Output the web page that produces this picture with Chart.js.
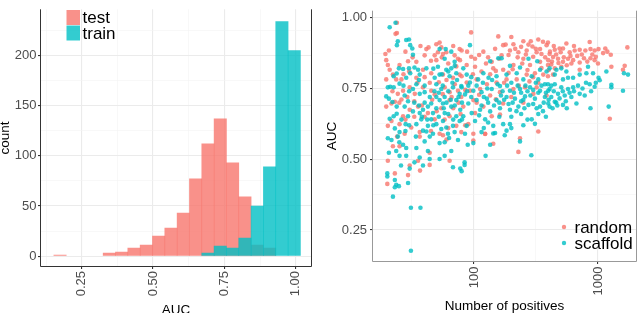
<!DOCTYPE html>
<html>
<head>
<meta charset="utf-8">
<script src="https://cdn.jsdelivr.net/npm/chart.js@4"></script>
<style>
  html, body { margin: 0; padding: 0; background: #fff; overflow: hidden; }
  canvas { position: absolute; top: 0; }
</style>
</head>
<body>
<canvas id="hist" width="320" height="313" style="left:0"></canvas>
<canvas id="scatter" width="320" height="313" style="left:320px"></canvas>
<script>
// histogram of AUC, test vs train (bin width ~0.0432)
const binCenters = [0.1741, 0.2173, 0.2605, 0.3037, 0.3469, 0.3901, 0.4333, 0.4765, 0.5197, 0.5629,
                    0.6061, 0.6493, 0.6925, 0.7357, 0.7789, 0.8221, 0.8653, 0.9085, 0.9517, 0.9949];
const testCounts  = [1, 0, 0, 0, 3, 4, 8, 11, 20, 28, 43, 77, 112, 137, 93, 59, 11, 8, 0, 0];
const trainCounts = [0, 0, 0, 0, 0, 0, 0, 0, 0, 0, 0, 0, 3, 10, 8, 18, 50, 89, 234, 205];

const histXTicks = [0.125, 0.25, 0.375, 0.5, 0.625, 0.75, 0.875, 1.0];
const histYTicks = [0, 25, 50, 75, 100, 125, 150, 175, 200, 225];
const aucTicks = [0.25, 0.375, 0.5, 0.625, 0.75, 0.875, 1.0];
const positivesTicks = [31.62, 100, 316.2, 1000];

// [number of positives, AUC]
const randomPoints = [
  [23.9,.982],[23.3,.943],[23.9,.946],[19.3,.872],[20.6,.884],[19.6,.850],[20.2,.833],[20.9,.816],[22.2,.799],[19.6,.782],
  [23.6,.782],[26.0,.782],[25.1,.833],[29.4,.846],[34.3,.844],[40.0,.867],[41.3,.889],[49.7,.906],[52.8,.912],[54.5,.895],
  [51.2,.878],[48.2,.867],[49.7,.850],[56.2,.872],[59.8,.878],[69.8,.867],[74.3,.855],[76.6,.889],[38.8,.816],[45.2,.804],
  [56.2,.799],[67.7,.788],[76.6,.799],[34.3,.788],[30.3,.754],[26.8,.742],[24.3,.731],[21.6,.697],[19.6,.686],[23.0,.703],
  [26.0,.711],[33.3,.731],[38.8,.754],[45.2,.742],[48.2,.729],[58.0,.754],[63.6,.737],[74.3,.742],[79.0,.720],[63.6,.709],
  [54.5,.680],[42.5,.663],[35.4,.686],[30.3,.675],[26.8,.652],[21.6,.635],[20.2,.618],[25.1,.624],[31.2,.612],[36.5,.596],
  [48.2,.641],[63.6,.652],[72.0,.618],[79.0,.596],[52.8,.590],[27.6,.590],
  [28,.880],[32,.860],[37,.900],[43,.895],[45,.848],[55,.860],[62,.838],[68,.900],[72,.828],[30,.810],
  [35,.770],[40,.790],[44,.770],[52,.772],[60,.780],[70,.765],[27,.800],[22,.740],[25,.700],[29,.720],
  [33,.705],[38,.690],[46,.710],[56,.730],[66,.720],[75,.700],[40,.650],[50,.670],[58,.640],[68,.680],
  [78,.660],[28,.640],[33,.650],[24,.580],[45,.600],[60,.570],[85,.620],[62,.610],
  [94.8,.948],[157,.934],[200,.932],[208,.906],[172,.903],[195,.884],[250,.917],[287,.917],[330,.923],[296,.898],
  [341,.889],[385,.903],[320,.878],[266,.884],[228,.878],[167,.867],[139,.844],[119,.880],[102,.855],[79.5,.884],
  [77.1,.850],[87.3,.833],[102,.827],[115,.810],[143,.821],[172,.816],[208,.833],[250,.855],[283,.833],[341,.844],
  [397,.850],[362,.799],[310,.804],[266,.799],[221,.782],[183,.782],[152,.771],[127,.765],[105,.782],[87.3,.771],
  [79.5,.793],[92.8,.742],[112,.748],[162,.737],[208,.748],[258,.754],[320,.754],[385,.725],[301,.731],[135,.725],
  [98.8,.709],[82.0,.686],[119,.686],[172,.697],[139,.652],[102,.663],[90.0,.624],[162,.658],[98.8,.590],[123,.590],
  [330,.598],
  [180,.905],[190,.868],[215,.890],[225,.860],[240,.897],[262,.870],[275,.905],[300,.862],[315,.890],[350,.872],
  [360,.915],[375,.860],[410,.880],[425,.845],[440,.900],[460,.870],[480,.840],[500,.878],[530,.860],[560,.832],
  [600,.865],[640,.900],[680,.865],[740,.870],[820,.845],[900,.870],[960,.862],[1100,.875],[245,.838],[205,.818],
  [160,.855],[148,.890],[130,.860],[125,.838],[110,.868],[95,.862],[88,.880],[98,.800],[135,.800],[150,.812],
  [190,.805],[270,.815],[300,.790],[350,.822],[420,.835],[230,.760],[280,.775],[330,.770],[400,.815],[175,.770],
  [110,.728],[150,.712],[200,.720],[250,.700],[85,.745],[105,.700],
  [395,.912],[448,.887],[490,.891],[522,.891],[556,.909],[591,.878],[649,.884],[712,.887],[791,.884],[857,.914],
  [870,.889],[940,.884],[1010,.889],[1145,.891],[1190,.880],[1268,.869],[1725,.895],[1642,.830],[1590,.816],[1282,.827],
  [1000,.838],[940,.850],[870,.857],[771,.857],[712,.842],[630,.850],[573,.855],[522,.844],[476,.855],[434,.861],
  [407,.872],[506,.827],[448,.821],[610,.838],[712,.816],[395,.793],[434,.799],[1245,.643],[395,.833],
  [20.2,.495],[20.0,.413],[23.0,.450],[25.1,.546],[30.3,.478],[29.4,.444],[35.4,.495],[43.9,.523],[43.9,.480],[63.6,.495],
  [22.2,.546],[36.5,.580],[56.2,.585],[36.7,.460],
  [98.8,.566],[143,.555],[235,.574],[228,.526],[123,.589]
];

const scaffoldPoints = [
  [23.3,.982],[20.9,.966],[24.3,.917],[23.9,.903],[28.4,.921],[29.9,.923],[30.6,.903],[31.8,.891],[32.2,.869],[24.8,.821],
  [26.8,.819],[22.5,.793],[23.8,.803],[21.1,.756],[20.2,.754],[19.6,.722],[20.6,.714],[22.0,.702],[22.5,.754],[25.1,.767],
  [28.4,.788],[29.9,.821],[30.6,.804],[33.1,.824],[35.4,.816],[36.5,.799],[34.3,.765],[32.2,.748],[27.6,.725],[29.4,.705],
  [23.8,.686],[27.6,.686],[23.8,.661],[20.9,.643],[22.5,.652],[23.0,.609],[25.1,.596],[28.1,.624],[29.4,.652],[32.2,.669],
  [36.5,.663],[37.6,.641],[38.8,.675],[34.3,.624],[38.8,.601],[42.5,.618],[45.2,.641],[42.5,.686],[46.7,.663],[49.7,.680],
  [52.8,.709],[56.2,.697],[58.0,.720],[54.5,.748],[49.7,.765],[48.2,.788],[52.8,.799],[59.8,.816],[65.6,.821],[63.6,.793],
  [72.0,.804],[79.0,.759],[67.7,.754],[76.6,.731],[72.0,.709],[65.6,.686],[58.0,.663],[56.2,.635],[49.7,.624],[59.8,.612],
  [67.7,.618],[76.6,.635],[72.0,.652],[77.5,.675],[69.8,.596],[61.7,.590],[54.5,.607],[46.7,.590],[41.3,.598],[59.1,.889],
  [52.8,.889],[65.6,.880],[58.0,.855],[69.8,.844],[51.2,.827],[41.3,.821],[45.2,.697],[49.7,.720],[36.5,.731],[40.0,.737],
  [27,.760],[30,.740],[33,.700],[36,.690],[40,.700],[44,.720],[48,.740],[52,.735],[56,.760],[62,.740],
  [67,.770],[73,.780],[60,.700],[65,.710],[70,.690],[75,.720],[80,.700],[38,.650],[42,.640],[47,.620],
  [52,.650],[57,.680],[62,.660],[68,.640],[30,.620],[26,.640],[25,.560],[28,.600],[34,.580],[44,.580],
  [58,.560],[63,.575],[80,.640],[90,.760],[95,.720],[95,.790],[88,.740],[36,.780],[40,.760],[55,.800],
  [62,.810],[47,.820],[70,.830],
  [92.8,.903],[82.0,.821],[87.3,.799],[79.5,.754],[92.8,.771],[108,.782],[119,.804],[135,.846],[157,.857],[167,.857],
  [195,.830],[235,.824],[275,.855],[324,.846],[341,.816],[385,.810],[221,.804],[183,.799],[152,.793],[131,.788],
  [250,.782],[292,.793],[330,.782],[373,.765],[397,.742],[341,.742],[283,.754],[235,.748],[195,.742],[162,.759],
  [139,.748],[115,.737],[98.8,.742],[84.6,.729],[90.0,.697],[105,.709],[127,.714],[152,.709],[183,.720],[214,.714],
  [258,.722],[310,.714],[373,.720],[397,.697],[341,.686],[275,.692],[228,.686],[195,.675],[162,.680],[135,.669],
  [112,.675],[95.8,.663],[82.0,.652],[102,.635],[123,.641],[143,.618],[172,.624],[195,.624],[292,.641],[87.3,.618],
  [84.6,.590],[115,.596],[148,.593],[183,.601],
  [105,.760],[118,.770],[128,.750],[140,.780],[155,.765],[170,.740],[185,.760],[200,.770],[210,.735],[225,.760],
  [240,.735],[260,.760],[270,.740],[285,.725],[300,.745],[315,.770],[330,.735],[350,.760],[365,.700],[380,.735],
  [420,.760],[440,.740],[460,.700],[490,.715],[520,.740],[550,.705],[590,.735],[640,.740],[690,.760],[750,.750],
  [800,.770],[880,.740],[960,.770],[115,.690],[130,.700],[145,.690],[160,.700],[175,.710],[190,.695],[205,.700],
  [220,.670],[240,.705],[255,.680],[300,.695],[320,.680],[360,.670],[400,.710],[430,.680],[470,.690],[560,.680],
  [120,.720],[165,.725],[250,.710],[110,.655],[130,.630],[160,.650],[200,.650],[240,.660],[270,.640],[330,.660],
  [200,.610],[250,.620],[120,.610],[310,.625],[380,.650],
  [407,.821],[462,.816],[506,.821],[556,.810],[448,.799],[522,.782],[573,.788],[630,.788],[712,.799],[806,.804],
  [831,.827],[912,.804],[1010,.788],[1032,.779],[857,.765],[940,.756],[1168,.810],[1282,.763],[1282,.754],[1620,.804],
  [1746,.799],[1590,.742],[1220,.686],[870,.680],[781,.725],[712,.731],[630,.754],[573,.748],[506,.754],[448,.765],
  [407,.748],[420,.720],[476,.731],[539,.725],[610,.720],[670,.697],[522,.692],[448,.703],[407,.686],[395,.765],
  [20.2,.574],[21.6,.568],[24.3,.580],[26.8,.551],[28.4,.540],[23.6,.529],[25.1,.512],[28.4,.512],[25.8,.478],[20.0,.450],
  [20.0,.439],[23.0,.427],[23.6,.410],[23.0,.401],[24.8,.405],[29.4,.416],[22.2,.368],[31.0,.329],[37.0,.329],[31.0,.177],
  [30.3,.467],[33.1,.489],[36.5,.506],[38.8,.478],[34.3,.540],[40.0,.563],[42.5,.529],[43.9,.501],[52.8,.501],[58.0,.512],
  [65.6,.529],[67.7,.472],[77.5,.467],[74.3,.568],[52.8,.557],[20.6,.523],
  [84.0,.489],[84.0,.480],[79.5,.458],[89.0,.551],[98.8,.557],[135,.551],[124,.512],[235,.563],[290,.514],[143,.591],
  [177,.585]
];

const RED = 'rgba(248,118,109,0.8)';
const TEAL = 'rgba(0,191,196,0.8)';
const FONT = "'Liberation Sans', Arial, Helvetica, sans-serif";
Chart.defaults.font.family = FONT;

function near(a, b) { return Math.abs(a - b) < 1e-6; }
const isQuarter = v => near(v * 4, Math.round(v * 4));
const isFifty = v => v % 50 === 0;
const isDecade = v => v === 100 || v === 1000;

function gridFor(isMajor) {
  return {
    offset: false,
    color: ctx => ctx.tick && isMajor(ctx.tick.value) ? '#ebebeb' : '#f3f3f3',
    lineWidth: ctx => ctx.tick && isMajor(ctx.tick.value) ? 1.1 : 0.6,
    tickColor: ctx => ctx.tick && isMajor(ctx.tick.value) ? '#333' : 'rgba(0,0,0,0)',
    tickLength: 2.5,
    drawTicks: true
  };
}

function frame(color) {
  return {
    id: 'frame',
    afterDraw(chart) {
      const a = chart.chartArea, c = chart.ctx;
      c.save();
      c.strokeStyle = color;
      c.lineWidth = 1;
      c.beginPath();
      c.moveTo(a.left, a.top);
      c.lineTo(a.left, a.bottom);
      c.lineTo(a.right, a.bottom);
      c.lineTo(a.right, a.top);
      c.stroke();
      c.restore();
    }
  };
}

// legend for the histogram, drawn inside the plot
const histLegend = {
  id: 'histLegend',
  afterDraw(chart) {
    const c = chart.ctx;
    c.save();
    c.fillStyle = RED;
    c.fillRect(66.5, 10, 13.5, 15);
    c.fillStyle = TEAL;
    c.fillRect(66.5, 25.5, 13.5, 15);
    c.fillStyle = '#000';
    c.font = '17px ' + FONT;
    c.textBaseline = 'alphabetic';
    c.fillText('test', 82.5, 23);
    c.fillText('train', 82.5, 39);
    c.restore();
  }
};

const scatterLegend = {
  id: 'scatterLegend',
  afterDraw(chart) {
    const c = chart.ctx;
    c.save();
    c.fillStyle = RED;
    c.beginPath(); c.arc(244, 227, 2.2, 0, Math.PI * 2); c.fill();
    c.fillStyle = TEAL;
    c.beginPath(); c.arc(244, 243, 2.2, 0, Math.PI * 2); c.fill();
    c.fillStyle = '#000';
    c.font = '17px ' + FONT;
    c.fillText('random', 254.5, 233);
    c.fillText('scaffold', 254.5, 249);
    c.restore();
  }
};

const tickFont = { size: 13 };
const titleFont = { size: 13.5 };

// empty bins are left out so no zero-height bar is drawn
const histData = counts => binCenters.map((x, i) => ({ x: x, y: counts[i] })).filter(d => d.y > 0);

new Chart(document.getElementById('hist'), {
  type: 'bar',
  data: {
    datasets: [
      { label: 'test', data: histData(testCounts), backgroundColor: RED, order: 2 },
      { label: 'train', data: histData(trainCounts), backgroundColor: TEAL, order: 1 }
    ]
  },
  options: {
    responsive: false,
    animation: false,
    layout: { padding: { left: 0, right: 8.5, top: 0, bottom: 0 } },
    datasets: { bar: { grouped: false, categoryPercentage: 1, barPercentage: 1, borderWidth: 0 } },
    plugins: { legend: { display: false }, tooltip: { enabled: false } },
    scales: {
      x: {
        type: 'linear', min: 0.1056, max: 1.0554, offset: false,
        afterBuildTicks: s => { s.ticks = histXTicks.map(v => ({ value: v })); },
        afterFit: s => { s.height = 46.5; },
        grid: gridFor(isQuarter),
        border: { display: false },
        ticks: { autoSkip: false, minRotation: 90, maxRotation: 90, padding: 2, color: '#4d4d4d', font: tickFont,
                 callback: v => isQuarter(v) ? v.toFixed(2) : '' },
        title: { display: true, text: 'AUC', color: '#000', font: titleFont, padding: { top: 0, bottom: -5.4 } }
      },
      y: {
        min: -10.4, max: 246.2,
        afterBuildTicks: s => { s.ticks = histYTicks.map(v => ({ value: v })); },
        afterFit: s => { s.width = 40.5; },
        grid: gridFor(isFifty),
        border: { display: false },
        ticks: { padding: 1.5, color: '#4d4d4d', font: tickFont, callback: v => isFifty(v) ? String(v) : '' },
        title: { display: true, text: 'count', color: '#000', font: titleFont, padding: { top: -2.8, bottom: 0 } }
      }
    }
  },
  plugins: [frame('#333'), histLegend]
});

new Chart(document.getElementById('scatter'), {
  type: 'scatter',
  data: {
    datasets: [
      { label: 'random', data: randomPoints.map(p => ({ x: p[0], y: p[1] })), backgroundColor: RED, order: 2 },
      { label: 'scaffold', data: scaffoldPoints.map(p => ({ x: p[0], y: p[1] })), backgroundColor: TEAL, order: 1 }
    ]
  },
  options: {
    responsive: false,
    animation: false,
    layout: { padding: { left: 0, right: 3.5, top: 0, bottom: 0 } },
    elements: { point: { radius: 2.3, borderWidth: 0, hoverRadius: 2.3 } },
    plugins: { legend: { display: false }, tooltip: { enabled: false } },
    scales: {
      x: {
        type: 'logarithmic', min: 15.19, max: 2044,
        afterBuildTicks: s => { s.ticks = positivesTicks.map(v => ({ value: v })); },
        afterFit: s => { s.height = 51.5; },
        grid: gridFor(isDecade),
        border: { display: false },
        ticks: { autoSkip: false, minRotation: 90, maxRotation: 90, padding: 2.5, color: '#4d4d4d', font: tickFont,
                 callback: v => isDecade(v) ? String(v) : '' },
        title: { display: true, text: 'Number of positives', color: '#000', font: titleFont, padding: { top: 0, bottom: -1.1 } }
      },
      y: {
        min: 0.1389, max: 1.0247,
        afterBuildTicks: s => { s.ticks = aucTicks.map(v => ({ value: v })); },
        afterFit: s => { s.width = 52.5; },
        grid: gridFor(isQuarter),
        border: { display: false },
        ticks: { padding: 2.9, color: '#4d4d4d', font: tickFont, callback: v => isQuarter(v) ? v.toFixed(2) : '' },
        title: { display: true, text: 'AUC', color: '#000', font: titleFont, padding: { top: 4.5, bottom: 0 } }
      }
    }
  },
  plugins: [frame('#999'), scatterLegend]
});
</script>
</body>
</html>
